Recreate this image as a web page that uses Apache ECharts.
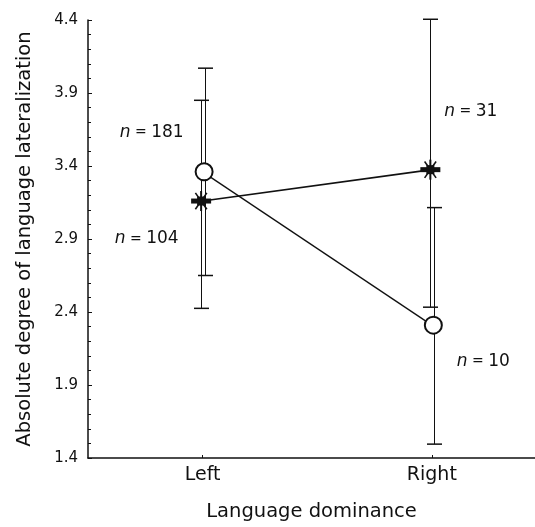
<!DOCTYPE html>
<html><head><meta charset="utf-8">
<script src="https://cdn.jsdelivr.net/npm/echarts@6/dist/echarts.min.js"></script>
<style>html,body{margin:0;padding:0;background:#fff}#c{width:535px;height:527px}</style>
</head><body><div id="c"></div>
<script>
// ---- data ----
const categories = ['Left', 'Right'];
const yTicks = [1.4, 1.9, 2.4, 2.9, 3.4, 3.9, 4.4];
const circleMean = [3.36, 2.31];
const circleHigh = [4.07, 3.115];
const circleLow  = [2.65, 1.495];
const circleN    = [181, 10];
const starMean = [3.16, 3.375];
const starHigh = [3.85, 4.405];
const starLow  = [2.425, 2.433];
const starN    = [104, 31];

// ---- styling (pixel offsets, not data) ----
const FONT = 'DejaVu Sans';
const circleShift = 1.5, starShift = -1.5;      // marker jitter
const circleBarShift = 2.5, starBarShift = -2;  // error bar jitter
const circleLabelPlace = [{dx: -20.5, dy: -39, align: 'right'}, {dx: 23.5, dy: 36, align: 'left'}];
const starLabelPlace   = [{dx: -22.5, dy: 38, align: 'right'}, {dx: 14, dy: -58, align: 'left'}];

const xs = categories.map((c, i) => i + 1);

function errRender(shift) {
  return function (params, api) {
    const x = api.value(0);
    const lo = api.coord([x, api.value(1)]);
    const hi = api.coord([x, api.value(2)]);
    const px = Math.round(lo[0] + shift) + 0.5;
    const cw = 7.5;
    return {type: 'group', children: [
      {type: 'line', shape: {x1: px, y1: hi[1], x2: px, y2: lo[1]}, style: {stroke: '#111', lineWidth: 1}},
      {type: 'line', shape: {x1: px - cw, y1: hi[1], x2: px + cw, y2: hi[1]}, style: {stroke: '#111', lineWidth: 1.5}},
      {type: 'line', shape: {x1: px - cw, y1: lo[1], x2: px + cw, y2: lo[1]}, style: {stroke: '#111', lineWidth: 1.5}}
    ]};
  };
}
function labelEl(c, place, n) {
  return {type: 'text', x: c[0] + place.dx, y: c[1] + place.dy,
    style: {text: '{i|n}{t| = }{d|' + n + '}', align: place.align, verticalAlign: 'middle',
      rich: {i: {fontFamily: FONT, fontStyle: 'italic', fontSize: 17, fill: '#111'},
             t: {fontFamily: FONT, fontSize: 14, fill: '#111'},
             d: {fontFamily: FONT, fontSize: 17, fill: '#111'}}}};
}
function circleRender(params, api) {
  const i = params.dataIndex;
  const c = api.coord([api.value(0), api.value(1)]);
  const cc = [c[0] + circleShift, c[1]];
  return {type: 'group', children: [
    {type: 'circle', shape: {cx: cc[0], cy: cc[1], r: 8.5}, style: {fill: '#fff', stroke: '#111', lineWidth: 2}},
    labelEl(cc, circleLabelPlace[i], circleN[i])
  ]};
}
function starRender(params, api) {
  const i = params.dataIndex;
  const c = api.coord([api.value(0), api.value(1)]);
  const x = c[0] + starShift, y = c[1];
  const r = 10, a = 55 * Math.PI / 180;
  const dx = r * Math.cos(a), dy = r * Math.sin(a);
  return {type: 'group', children: [
    {type: 'line', shape: {x1: x, y1: y - r, x2: x, y2: y + r}, style: {stroke: '#111', lineWidth: 2}},
    {type: 'line', shape: {x1: x - dx, y1: y - dy, x2: x + dx, y2: y + dy}, style: {stroke: '#111', lineWidth: 1.6}},
    {type: 'line', shape: {x1: x - dx, y1: y + dy, x2: x + dx, y2: y - dy}, style: {stroke: '#111', lineWidth: 1.6}},
    {type: 'rect', shape: {x: x - r, y: y - 2.5, width: 2 * r, height: 5}, style: {fill: '#111'}},
    {type: 'rect', shape: {x: x - 4, y: y - 4.5, width: 8, height: 9}, style: {fill: '#111'}},
    labelEl([x, y], starLabelPlace[i], starN[i])
  ]};
}

const chart = echarts.init(document.getElementById('c'), null, {renderer: 'canvas'});
chart.setOption({
  backgroundColor: '#fff',
  animation: false,
  grid: {left: 88, right: 0, top: 20, bottom: 68},
  xAxis: {
    type: 'value', min: 0.5, max: 2.45,
    name: 'Language dominance', nameLocation: 'middle', nameGap: 44,
    nameTextStyle: {fontFamily: FONT, fontSize: 19.5, color: '#111'},
    axisLine: {show: true, onZero: false, lineStyle: {color: '#111', width: 1.5}},
    axisTick: {show: true, inside: true, length: 3, customValues: xs, lineStyle: {color: '#111'}},
    axisLabel: {customValues: xs, formatter: v => categories[Math.round(v) - 1] || '',
      fontFamily: FONT, fontSize: 19, color: '#111', margin: 8},
    splitLine: {show: false}
  },
  yAxis: {
    type: 'value', min: 1.4, max: 4.4, interval: 0.5,
    name: 'Absolute degree of language lateralization', nameLocation: 'middle', nameGap: 53,
    nameTextStyle: {fontFamily: FONT, fontSize: 19.5, color: '#111'},
    axisLine: {show: true, onZero: false, lineStyle: {color: '#111', width: 1.5}},
    axisTick: {show: true, inside: true, length: 4, lineStyle: {color: '#111'}},
    minorTick: {show: true, splitNumber: 5, length: 3, lineStyle: {color: '#111'}},
    axisLabel: {customValues: yTicks, formatter: v => v.toFixed(1), fontFamily: FONT, fontSize: 15, color: '#111', margin: 10},
    splitLine: {show: false}
  },
  series: [
    {type: 'custom', renderItem: errRender(starBarShift), z: 1,
     data: xs.map((x, i) => [x, starLow[i], starHigh[i]])},
    {type: 'custom', renderItem: errRender(circleBarShift), z: 1,
     data: xs.map((x, i) => [x, circleLow[i], circleHigh[i]])},
    {type: 'line', symbol: 'none', z: 2, lineStyle: {color: '#111', width: 1.3},
     data: xs.map((x, i) => [x, circleMean[i]])},
    {type: 'line', symbol: 'none', z: 2, lineStyle: {color: '#111', width: 1.6},
     data: xs.map((x, i) => [x, starMean[i]])},
    {type: 'custom', renderItem: circleRender, z: 3,
     data: xs.map((x, i) => [x, circleMean[i]])},
    {type: 'custom', renderItem: starRender, z: 3,
     data: xs.map((x, i) => [x, starMean[i]])}
  ]
});
</script>
</body></html>
